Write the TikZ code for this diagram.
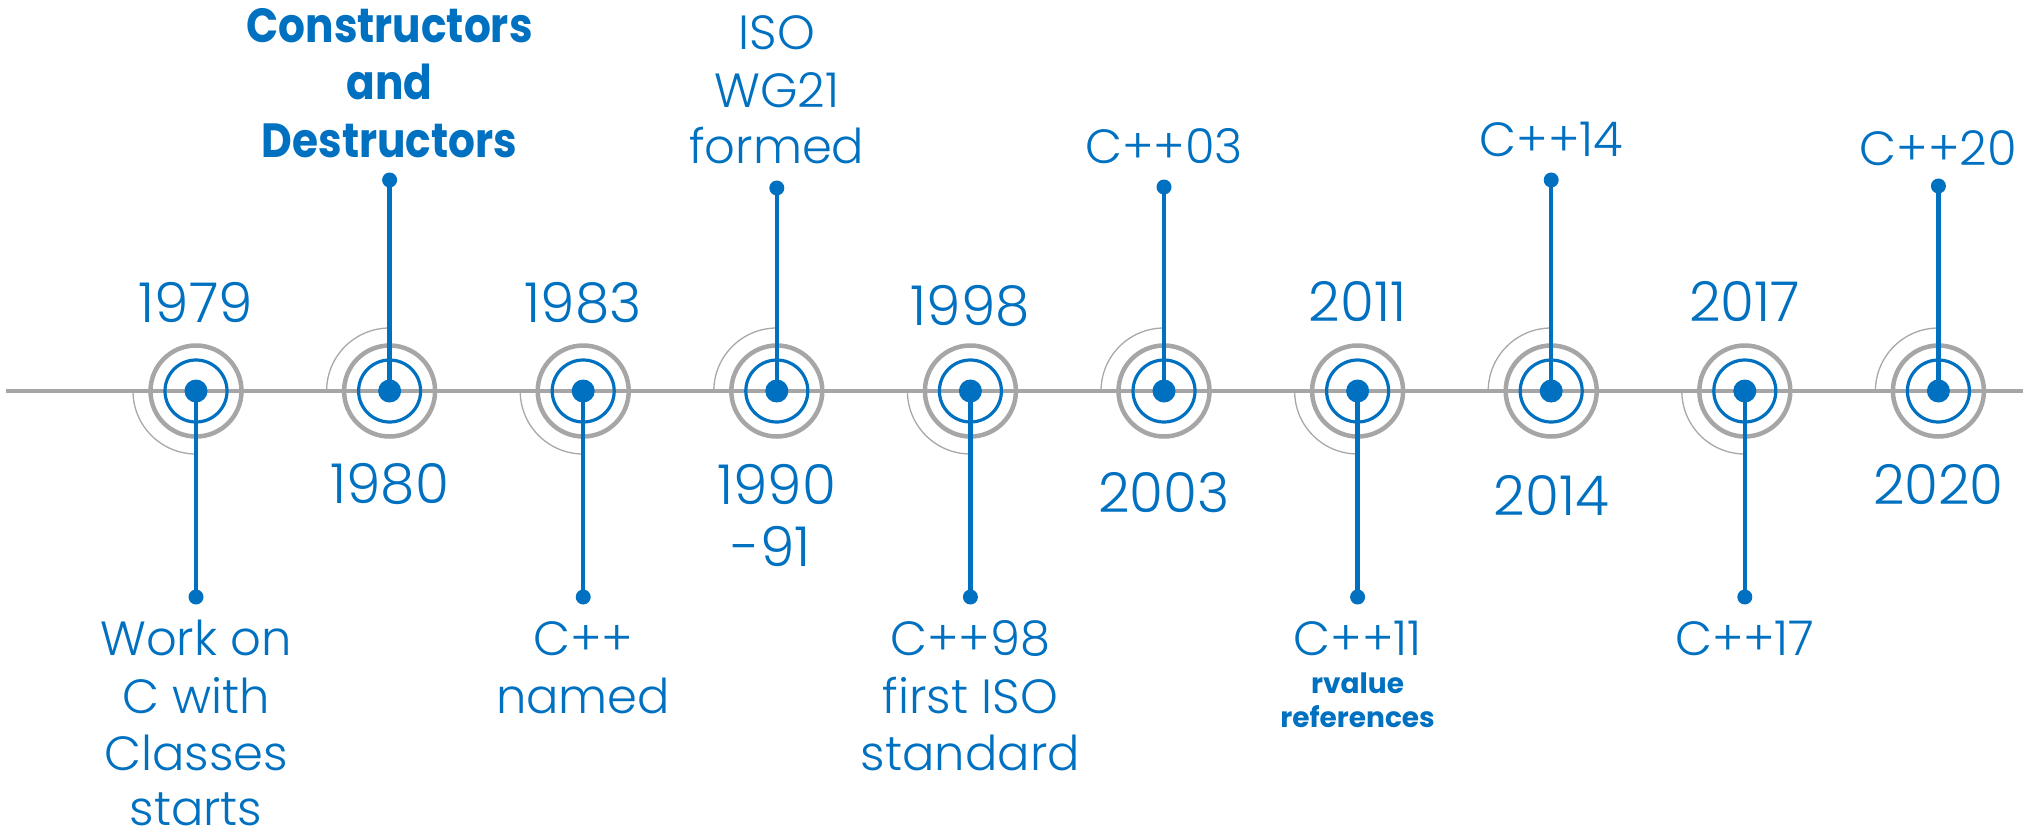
\documentclass[tikz,border=0pt]{standalone}
\usepackage{fontspec}
\setmainfont{Poppins}[UprightFont=* Light, BoldFont=* Bold]
\definecolor{cblue}{HTML}{0070C0}
\definecolor{cgray}{HTML}{A6A6A6}
\definecolor{carc}{HTML}{A8A8A8}
\newcommand{\narrow}[1]{\scalebox{0.88}[1]{#1}}
\begin{document}
\begin{tikzpicture}[x=1pt,y=-1pt,
  axisline/.style={draw=cgray,line width=4.5pt},
  thinarc/.style={draw=carc,line width=1.3pt},
  grayring/.style={draw=cgray,line width=4.5pt},
  bluering/.style={draw=cblue,line width=3.2pt},
  stem/.style={draw=cblue,line width=4.5pt},
  cdot/.style={circle,fill=cblue,minimum size=23pt,inner sep=0pt},
  edot/.style={circle,fill=cblue,minimum size=15pt,inner sep=0pt},
  yearlbl/.style={anchor=base,inner sep=0pt,text=cblue,font=\fontsize{55}{60}\selectfont},
  evlbl/.style={anchor=base,inner sep=0pt,text=cblue,font=\fontsize{48}{56}\selectfont},
  boldlbl/.style={anchor=base,inner sep=0pt,text=cblue,font=\bfseries\fontsize{48}{56}\selectfont},
  smallbold/.style={anchor=base,inner sep=0pt,text=cblue,font=\bfseries\fontsize{28}{32}\selectfont}]
\useasboundingbox (0,0) rectangle (2023,833);
% milestones: name / x / stem end y
\foreach \i/\x/\ey in {1979/196/597, 1980/389.6/180, 1983/583.2/597,
  1990/776.8/188, 1998/970.4/597, 2003/1164/187, 2011/1357.6/597,
  2014/1551.2/180, 2017/1744.8/597, 2020/1938.4/186}{
  \coordinate (c\i) at (\x,391);
  \coordinate (e\i) at (\x,\ey);
  \coordinate (a\i) at (\x-63,391);
}
\coordinate (L) at (6,391);
\coordinate (R) at (2023,391);
\draw[axisline] (L) -- (R);
\foreach \i/\ea in {1979/90,1980/270,1983/90,1990/270,1998/90,2003/270,2011/90,2014/270,2017/90,2020/270}{
  \draw[thinarc] (a\i) arc[start angle=180,end angle=\ea,radius=63];
  \draw[grayring] (c\i) circle[radius=45.5];
  \draw[bluering] (c\i) circle[radius=31];
  \draw[stem] (c\i) -- (e\i);
  \node[cdot] (n\i) at (c\i) {};
  \node[edot] (m\i) at (e\i) {};
}
% years above the line
\node[yearlbl] (y1979) at (196,322) {1979};
\node[yearlbl] (y1983) at (583.2,322) {1983};
\node[yearlbl] (y1998) at (970.4,325) {1998};
\node[yearlbl] (y2011) at (1357.6,321) {2011};
\node[yearlbl] (y2017) at (1744.8,321) {2017};
% years below the line
\node[yearlbl] (y1980) at (389.6,503) {1980};
\node[yearlbl] (y1990) at (776.8,504) {1990};
\node[yearlbl] (y1991) at (771,566) {-91};
\node[yearlbl] (y2003) at (1164,512) {2003};
\node[yearlbl] (y2014) at (1551.2,515) {2014};
\node[yearlbl] (y2020) at (1938.4,504) {2020};
% labels above
\node[boldlbl] (t1a) at (389.6,42) {\narrow{Constructors}};
\node[boldlbl] (t1b) at (389.6,99) {\narrow{and}};
\node[boldlbl] (t1c) at (389.6,157) {\narrow{Destructors}};
\node[evlbl] (t2a) at (776.8,49) {ISO};
\node[evlbl] (t2b) at (776.8,107) {WG21};
\node[evlbl] (t2c) at (776.8,163) {formed};
\node[evlbl] (t3) at (1164,163) {C++03};
\node[evlbl] (t4) at (1551.2,156) {C++14};
\node[evlbl] (t5) at (1938.4,165) {C++20};
% labels below
\node[evlbl] (b1a) at (196,655) {Work on};
\node[evlbl] (b1b) at (196,713) {C with};
\node[evlbl] (b1c) at (196,770) {Classes};
\node[evlbl] (b1d) at (196,825) {starts};
\node[evlbl] (b2a) at (583.2,655) {C++};
\node[evlbl] (b2b) at (583.2,713) {named};
\node[evlbl] (b3a) at (970.4,655) {C++98};
\node[evlbl] (b3b) at (970.4,713) {first ISO};
\node[evlbl] (b3c) at (970.4,770) {standard};
\node[evlbl] (b4a) at (1357.6,655) {C++11};
\node[smallbold] (b4b) at (1357.6,693) {rvalue};
\node[smallbold] (b4c) at (1357.6,727) {references};
\node[evlbl] (b5) at (1744.8,655) {C++17};
\end{tikzpicture}
\end{document}
